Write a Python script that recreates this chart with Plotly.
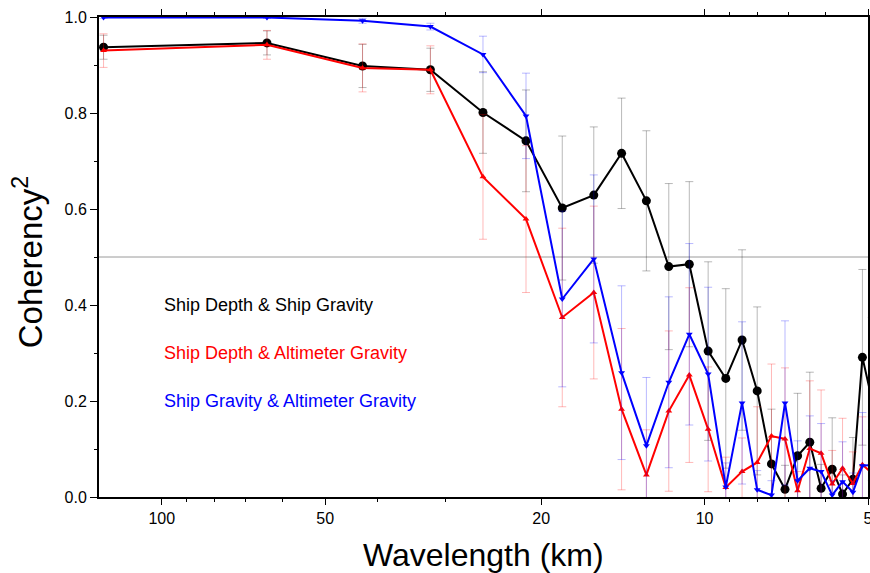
import math
import plotly.graph_objects as go

# Wavelength (km) of each spectral estimate
wavelength = [128.0, 64.0, 42.67, 32.0, 25.6, 21.33, 18.29, 16.0, 14.22, 12.8,
              11.64, 10.67, 9.85, 9.14, 8.53, 8.0, 7.53, 7.11, 6.74, 6.4,
              6.1, 5.82, 5.57, 5.33, 5.12, 4.92]

# Ship depth vs ship gravity
coh_depth_ship = [0.937, 0.946, 0.898, 0.890, 0.801, 0.742, 0.602, 0.629, 0.716, 0.617,
                  0.480, 0.485, 0.304, 0.247, 0.327, 0.221, 0.069, 0.016, 0.086, 0.114,
                  0.018, 0.058, 0.006, 0.037, 0.291, 0.204]
err_depth_ship = [0.025, 0.025, 0.045, 0.045, 0.085, 0.106, 0.150, 0.142, 0.115, 0.146,
                  0.173, 0.172, 0.186, 0.187, 0.188, 0.175, 0.114, 0.050, 0.130, 0.146,
                  0.050, 0.107, 0.040, 0.087, 0.183, 0.170]

# Ship depth vs altimeter gravity
coh_depth_alt = [0.930, 0.942, 0.894, 0.890, 0.667, 0.579, 0.374, 0.426, 0.183, 0.046,
                 0.179, 0.254, 0.141, 0.020, 0.053, 0.072, 0.127, 0.121, 0.013, 0.101,
                 0.091, 0.027, 0.060, 0.028, 0.067, 0.050]
err_depth_alt = [0.035, 0.030, 0.050, 0.050, 0.130, 0.153, 0.186, 0.180, 0.168, 0.094,
                 0.167, 0.182, 0.130, 0.063, 0.070, 0.116, 0.150, 0.148, 0.040, 0.141,
                 0.132, 0.070, 0.104, 0.066, 0.100, 0.090]

# Ship gravity vs altimeter gravity
coh_ship_alt = [0.999, 0.999, 0.992, 0.980, 0.922, 0.794, 0.4125, 0.496, 0.259, 0.107,
                0.239, 0.339, 0.256, 0.021, 0.196, 0.015, 0.004, 0.196, 0.034, 0.060,
                0.053, 0.004, 0.032, 0.010, 0.065, 0.067]
err_ship_alt = [0.002, 0.002, 0.005, 0.007, 0.038, 0.089, 0.183, 0.175, 0.181, 0.142,
                0.178, 0.189, 0.181, 0.050, 0.169, 0.040, 0.030, 0.171, 0.083, 0.109,
                0.100, 0.030, 0.083, 0.040, 0.111, 0.100]

labels = ["Ship Depth & Ship Gravity",
          "Ship Depth & Altimeter Gravity",
          "Ship Gravity & Altimeter Gravity"]

x_ticks = [100, 50, 20, 10, 5]
x_minor = [90, 80, 70, 60, 40, 30, 9, 8, 7, 6]
x_min, x_max = 130.5, 5.0

FONT = "Liberation Sans, Arial, Helvetica, sans-serif"

series = [
    (coh_depth_ship, err_depth_ship, "#000000", "rgba(0,0,0,0.28)", "circle", 9),
    (coh_depth_alt, err_depth_alt, "#ff0000", "rgba(255,0,0,0.28)", "triangle-up", 6),
    (coh_ship_alt, err_ship_alt, "#0000ff", "rgba(0,0,255,0.28)", "triangle-down", 6),
]

fig = go.Figure()

for vals, errs, col, ecol, sym, msz in series:
    # line with error bars (the last estimate lies just past the axis edge)
    fig.add_trace(go.Scatter(
        x=wavelength, y=vals, mode="lines",
        line=dict(color=col, width=2),
        error_y=dict(type="data", array=errs, color=ecol, thickness=1, width=4),
        showlegend=False, hoverinfo="skip",
    ))
    # symbols for the estimates inside the plotted range
    inside = [i for i, w in enumerate(wavelength) if w >= x_max]
    fig.add_trace(go.Scatter(
        x=[wavelength[i] for i in inside], y=[vals[i] for i in inside],
        mode="markers", marker=dict(symbol=sym, size=msz, color=col),
        cliponaxis=False, showlegend=False,
    ))

# reference level at coherency 0.5
fig.add_shape(type="line", xref="paper", x0=0, x1=1, yref="y", y0=0.5, y1=0.5,
              line=dict(color="#9a9a9a", width=1), layer="below")

# series labels
for lab, (_, _, col, _, _, _), ypos in zip(labels, series, [0.4, 0.3, 0.2]):
    fig.add_annotation(x=math.log10(100), y=ypos, xref="x", yref="y",
                       text=lab, showarrow=False, xanchor="left", yanchor="middle",
                       font=dict(family=FONT, size=18, color=col))

# axis titles
fig.add_annotation(xref="paper", yref="paper", x=0.5, y=-0.12,
                   text="Wavelength (km)", showarrow=False,
                   xanchor="center", yanchor="middle",
                   font=dict(family=FONT, size=32, color="black"))
fig.add_annotation(xref="paper", yref="paper", x=-0.093, y=0.49,
                   text="Coherency<sup>2</sup>", showarrow=False, textangle=-90,
                   xanchor="center", yanchor="middle",
                   font=dict(family=FONT, size=33, color="black"))

fig.update_layout(
    width=870, height=573,
    margin=dict(l=99, r=2, t=17, b=76, autoexpand=False),
    paper_bgcolor="white", plot_bgcolor="white",
    font=dict(family=FONT, size=16, color="black"),
    xaxis=dict(
        type="log", range=[math.log10(x_min), math.log10(x_max)],
        tickmode="array", tickvals=x_ticks, ticktext=[str(v) for v in x_ticks],
        ticks="outside", ticklen=6, tickwidth=1, tickcolor="black",
        showline=True, linewidth=2, linecolor="black", mirror="ticks",
        showgrid=False, zeroline=False, automargin=False,
        ticklabeloverflow="allow",
        minor=dict(tickmode="array", tickvals=x_minor, ticks="outside",
                   ticklen=3, tickwidth=1, tickcolor="black", showgrid=False),
        tickfont=dict(family=FONT, size=16),
    ),
    yaxis=dict(
        range=[0, 1], tickmode="linear", tick0=0, dtick=0.2, tickformat=".1f",
        ticks="outside", ticklen=7, tickwidth=1, tickcolor="black",
        showline=True, linewidth=2, linecolor="black", mirror="ticks",
        showgrid=False, zeroline=False, automargin=False,
        minor=dict(tickmode="linear", tick0=0, dtick=0.1, ticks="outside",
                   ticklen=3, tickwidth=1, tickcolor="black", showgrid=False),
        tickfont=dict(family=FONT, size=16),
    ),
)

fig.write_html("out.html")
